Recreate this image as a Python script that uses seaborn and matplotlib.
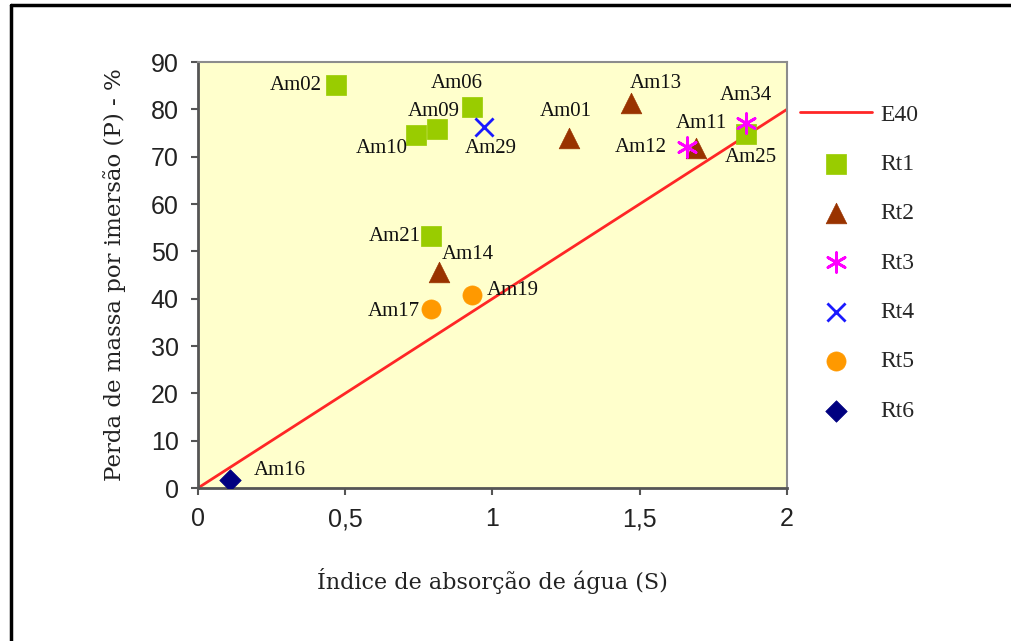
import matplotlib
matplotlib.use("Agg")
import matplotlib.pyplot as plt
import seaborn as sns
import pandas as pd
from matplotlib.lines import Line2D

# Amostras: índice de absorção de água (S) x perda de massa por imersão (P)
amostras = ['Am02', 'Am06', 'Am09', 'Am10', 'Am21', 'Am25',
            'Am13', 'Am01', 'Am11', 'Am14',
            'Am12', 'Am34',
            'Am29',
            'Am17', 'Am19',
            'Am16']
grupos = ['Rt1', 'Rt1', 'Rt1', 'Rt1', 'Rt1', 'Rt1',
          'Rt2', 'Rt2', 'Rt2', 'Rt2',
          'Rt3', 'Rt3',
          'Rt4',
          'Rt5', 'Rt5',
          'Rt6']
indice_s = [0.47, 0.93, 0.81, 0.74, 0.79, 1.86,
            1.47, 1.26, 1.69, 0.82,
            1.66, 1.86,
            0.97,
            0.79, 0.93,
            0.11]
perda_p = [85.1, 80.5, 75.8, 74.6, 53.2, 74.8,
           81.3, 73.9, 71.8, 45.6,
           72.0, 77.1,
           76.3,
           37.8, 40.8,
           1.7]

# linha de referência E40
e40_s = [0, 2]
e40_p = [0, 80]

x_ticks = [0, 0.5, 1, 1.5, 2]
x_ticklabels = ['0', '0,5', '1', '1,5', '2']
y_ticks = [0, 10, 20, 30, 40, 50, 60, 70, 80, 90]

df = pd.DataFrame({'amostra': amostras, 'grupo': grupos, 'S': indice_s, 'P': perda_p})

estilos = {
    'Rt1': dict(marker='s', color='#99CC00', s=190, filled=True),
    'Rt2': dict(marker='^', color='#993300', s=220, filled=True),
    'Rt3': dict(marker=(6, 2, 0), color='#FF00FF', s=200, filled=False),
    'Rt4': dict(marker='x', color='#1A1AFF', s=170, filled=False),
    'Rt5': dict(marker='o', color='#FF9900', s=190, filled=True),
    'Rt6': dict(marker='D', color='#000080', s=120, filled=True),
}

# deslocamento dos rótulos (pixels) e alinhamento
rotulos = {
    'Am02': (-15, 0, 'right'), 'Am06': (-15, 23, 'center'),
    'Am09': (-3, 18, 'center'), 'Am10': (-8, -14, 'right'),
    'Am21': (-10, 0, 'right'), 'Am25': (5, -24, 'center'),
    'Am13': (25, 20, 'center'), 'Am01': (-3, 27, 'center'),
    'Am11': (6, 25, 'center'), 'Am14': (28, 18, 'center'),
    'Am12': (-20, 0, 'right'), 'Am34': (0, 28, 'center'),
    'Am29': (7, -22, 'center'), 'Am17': (-11, -2, 'right'),
    'Am19': (15, 4, 'left'), 'Am16': (23, 9, 'left'),
}

sns.set_style('ticks')
fig = plt.figure(figsize=(10.12, 6.41), dpi=100)
ax = fig.add_axes([198 / 1012, 1 - 488 / 641, (787 - 198) / 1012, (488 - 62) / 641])
ax.set_facecolor('#FFFFCC')

sns.lineplot(x=e40_s, y=e40_p, ax=ax, color='#FF2626', linewidth=2, label='E40', legend=False)

for g in ['Rt1', 'Rt2', 'Rt3', 'Rt4', 'Rt5', 'Rt6']:
    st = estilos[g]
    sub = df[df['grupo'] == g]
    if st['filled']:
        sns.scatterplot(data=sub, x='S', y='P', ax=ax, marker=st['marker'], color=st['color'],
                        edgecolor=st['color'], s=st['s'], linewidth=0.5, label=g, legend=False, zorder=3)
    else:
        sns.scatterplot(data=sub, x='S', y='P', ax=ax, marker=st['marker'], color=st['color'],
                        s=st['s'], linewidth=2, label=g, legend=False, zorder=3)

for _, row in df.iterrows():
    dx, dy, ha = rotulos[row['amostra']]
    ax.annotate(row['amostra'], (row['S'], row['P']), xytext=(dx, dy), textcoords='offset pixels',
                ha=ha, va='center', fontsize=15, family='Liberation Serif', color='#111111')

ax.set_xlim(0, 2)
ax.set_ylim(0, 90)
ax.set_xticks(x_ticks)
ax.set_xticklabels(x_ticklabels)
ax.set_yticks(y_ticks)
ax.tick_params(axis='both', direction='out', length=5, width=1.5, color='#555555',
               labelsize=18, labelcolor='#222222', pad=9)
for lab in ax.get_xticklabels() + ax.get_yticklabels():
    lab.set_family('Liberation Sans')

for side in ['left', 'bottom']:
    ax.spines[side].set_color('#555555')
    ax.spines[side].set_linewidth(2)
for side in ['top', 'right']:
    ax.spines[side].set_color('#8C8C8C')
    ax.spines[side].set_linewidth(1.5)

ax.set_xlabel('Índice de absorção de água (S)', fontsize=16, family='DejaVu Serif',
              color='#222222', labelpad=26)
ax.set_ylabel('Perda de massa por imersão (P) - %', fontsize=16.5, family='DejaVu Serif',
              color='#222222', labelpad=18)

handles, labels = ax.get_legend_handles_labels()
fig.legend(handles, labels, loc='upper left', bbox_to_anchor=(800 / 1012, 1 - 104 / 641),
           frameon=False, borderpad=0, borderaxespad=0, handlelength=3.05, handletextpad=0.35,
           labelspacing=1.18, prop={'family': 'Liberation Serif', 'size': 17})

# moldura da figura (bordas esquerda e superior)
fig.add_artist(Line2D([11 / 1012, 11 / 1012], [0, 1 - 5 / 641], color='black', linewidth=2.5))
fig.add_artist(Line2D([11 / 1012, 1], [1 - 5 / 641, 1 - 5 / 641], color='black', linewidth=2.5))

fig.savefig('out.png', dpi=100)
